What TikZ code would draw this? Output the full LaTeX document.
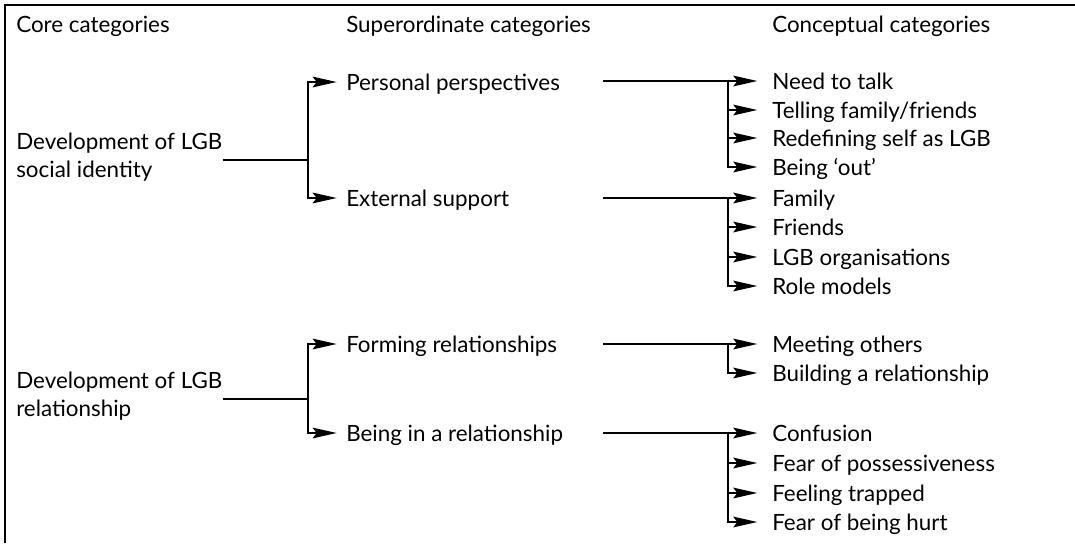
\documentclass[tikz,border=0pt]{standalone}
\usepackage{fontspec}
\setmainfont{Lato}
\usetikzlibrary{arrows.meta,positioning}

\begin{document}
\begin{tikzpicture}[x=0.75pt,y=-0.75pt,
    txt/.style={anchor=west,inner sep=0pt,text height=14pt,text depth=2pt,font=\fontsize{16.8}{20.5}\selectfont},
    core/.style={anchor=west,inner sep=0pt,align=left,font=\fontsize{16.8}{21}\selectfont},
    link/.style={line width=1.5pt},
    hv/.style={to path={|- (\tikztotarget)}},
    branch/.style={link,-{Stealth[length=18pt,width=8pt,inset=3pt]},shorten >=#1}]
    \useasboundingbox (0,0) rectangle (1075,543);
    \draw[line width=2.2pt] (5,543) -- (5,5) -- (1075,5);

    \node[txt] (hcore) at (16,24) {Core categories};
    \node[txt] (hsup) at (346,24) {Superordinate categories};
    \node[txt] (hcon) at (772,24) {Conceptual categories};

    \node[core] (core1) at (16,157.5) {Development of LGB\\social identity};
    \node[core] (core2) at (16,396.5) {Development of LGB\\relationship};

    \node[txt] (sup1) at (346,82) {Personal perspectives};
    \node[txt] (sup2) at (346,198) {External support};
    \node[txt] (sup3) at (346,344) {Forming relationships};
    \node[txt] (sup4) at (346,433) {Being in a relationship};

    \node[txt] (c11) at (772,81) {Need to talk};
    \node[txt] (c12) at (772,110) {Telling family/friends};
    \node[txt] (c13) at (772,138) {Redefining self as LGB};
    \node[txt] (c14) at (772,167) {Being `out'};
    \node[txt] (c21) at (772,198) {Family};
    \node[txt] (c22) at (772,227) {Friends};
    \node[txt] (c23) at (772,257) {LGB organisations};
    \node[txt] (c24) at (772,286) {Role models};
    \node[txt] (c31) at (772,344) {Meeting others};
    \node[txt] (c32) at (772,373) {Building a relationship};
    \node[txt] (c41) at (772,433) {Confusion};
    \node[txt] (c42) at (772,463) {Fear of possessiveness};
    \node[txt] (c43) at (772,493) {Feeling trapped};
    \node[txt] (c44) at (772,522) {Fear of being hurt};

    \coordinate (j1) at (308,160);
    \coordinate (j2) at (308,399);
    \coordinate (s1) at (603,81);
    \coordinate (s2) at (603,198);
    \coordinate (s3) at (603,344);
    \coordinate (s4) at (603,433);
    \coordinate (k1) at (728,81);
    \coordinate (k2) at (728,198);
    \coordinate (k3) at (728,344);
    \coordinate (k4) at (728,433);

    \draw[link] (core1.east |- j1) -- (j1);
    \draw[link] (core2.east |- j2) -- (j2);
    \path[branch=7pt]
        (j1) edge[hv] (sup1.west) edge[hv] (sup2.west)
        (j2) edge[hv] (sup3.west) edge[hv] (sup4.west);

    \draw[link] (s1) -- (k1);
    \draw[link] (s2) -- (k2);
    \draw[link] (s3) -- (k3);
    \draw[link] (s4) -- (k4);
    \path[branch=11pt]
        (k1) edge[hv] (c11.west) edge[hv] (c12.west) edge[hv] (c13.west) edge[hv] (c14.west)
        (k2) edge[hv] (c21.west) edge[hv] (c22.west) edge[hv] (c23.west) edge[hv] (c24.west)
        (k3) edge[hv] (c31.west) edge[hv] (c32.west)
        (k4) edge[hv] (c41.west) edge[hv] (c42.west) edge[hv] (c43.west) edge[hv] (c44.west);
\end{tikzpicture}
\end{document}
